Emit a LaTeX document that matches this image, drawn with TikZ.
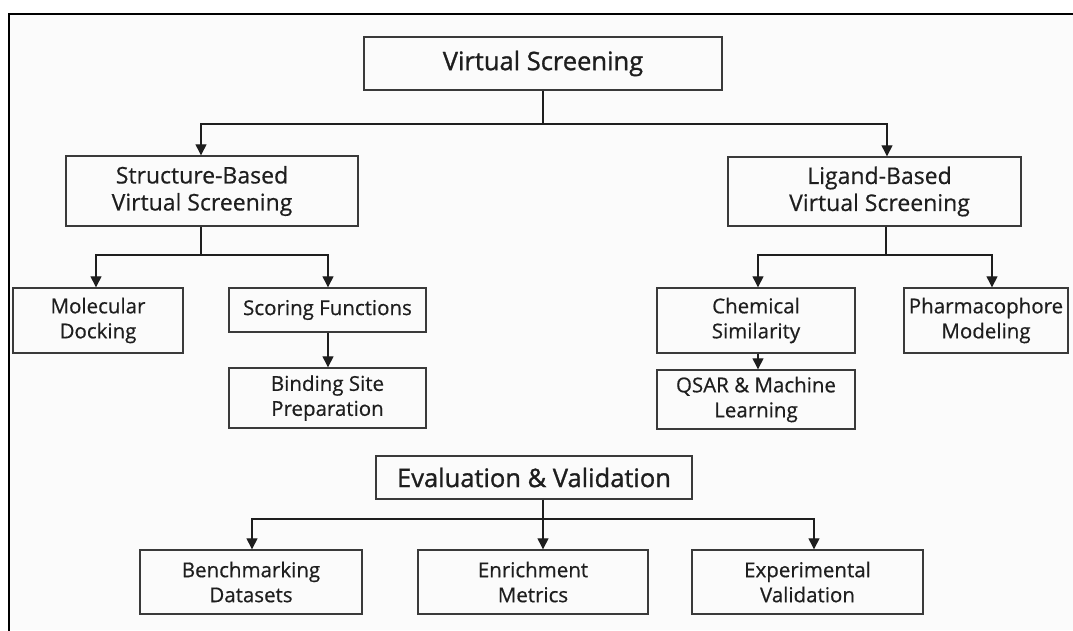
\documentclass[tikz,border=0pt]{standalone}
\usepackage{fontspec}
\setmainfont{Open Sans}[FakeBold=0.5]
\newfontfamily\headfont{Open Sans}[FakeBold=1.1]
\usetikzlibrary{arrows.meta}
\definecolor{ink}{HTML}{1E1E1E}
\definecolor{edge}{HTML}{3A3A3A}
\begin{document}
\begin{tikzpicture}[x=1pt,y=-1pt,
  box/.style={draw=edge, line width=1.4pt, text=ink, align=center, inner sep=0pt},
  lvlA/.style={box, font=\headfont\fontsize{25.5}{30}\selectfont},
  lvlB/.style={box, font=\fontsize{23}{27}\selectfont},
  leaf/.style={box, font=\fontsize{20.5}{25}\selectfont},
  link/.style={draw=ink, line width=1.3pt},
  arr/.style={link, -{Triangle[length=11pt,width=11pt]}},
  frame/.style={draw=black, line width=2.4pt}]
\useasboundingbox (0,0) rectangle (1073,630);
\fill[white] (0,0) rectangle (1073,630);
\fill[black!1.5] (9,14) rectangle (1073,630);
\draw[frame] (1073,14) -- (9,14) -- (9,631);

% top level
\node[lvlA, minimum width=358, minimum height=53] (vs) at (543,63.5) {Virtual Screening};

% two approaches
\node[lvlB, minimum width=292, minimum height=70] (sb) at (212,191) {\kern-20pt Structure-Based\\\kern-20pt Virtual Screening};
\node[lvlB, minimum width=293, minimum height=69] (lb) at (874.5,191.5) {\kern10pt Ligand-Based\\\kern10pt Virtual Screening};

% structure-based branch
\node[leaf, minimum width=170, minimum height=65] (md) at (98,320.5) {Molecular\\Docking};
\node[leaf, minimum width=197, minimum height=44] (sf) at (327.5,310) {Scoring Functions};
\node[leaf, minimum width=197, minimum height=60] (bs) at (327.5,398) {Binding Site\\Preparation};

% ligand-based branch
\node[leaf, minimum width=198, minimum height=65] (cs) at (756,320.5) {Chemical\\Similarity};
\node[leaf, minimum width=164, minimum height=65] (ph) at (986,320.5) {Pharmacophore\\Modeling};
\node[leaf, minimum width=198, minimum height=59] (qs) at (756,399.5) {QSAR \& Machine\\Learning};

% evaluation
\node[lvlA, minimum width=316, minimum height=43] (ev) at (534,477.5) {Evaluation \& Validation};
\node[leaf, minimum width=222, minimum height=64] (bm) at (251,582) {Benchmarking\\Datasets};
\node[leaf, minimum width=230, minimum height=64] (em) at (533,582) {Enrichment\\Metrics};
\node[leaf, minimum width=231, minimum height=64] (ex) at (807.5,582) {Experimental\\Validation};

% connectors: top level
\coordinate (j1) at (543,124);
\draw[link] (vs.south) -- (j1);
\draw[arr] (j1) -| (201,0 |- sb.north);
\draw[arr] (j1) -| (887,0 |- lb.north);

% connectors: structure-based
\coordinate (j2) at (201,255);
\draw[link] (201,0 |- sb.south) -- (j2);
\draw[arr] (j2) -| (96,0 |- md.north);
\draw[arr] (j2) -| (328,0 |- sf.north);
\draw[arr] (328,0 |- sf.south) -- (328,0 |- bs.north);

% connectors: ligand-based
\coordinate (j3) at (886,255);
\draw[link] (886,0 |- lb.south) -- (j3);
\draw[arr] (j3) -| (758,0 |- cs.north);
\draw[arr] (j3) -| (992,0 |- ph.north);
\draw[arr] (758,0 |- cs.south) -- (758,0 |- qs.north);

% connectors: evaluation
\coordinate (j4) at (543,519);
\draw[arr] (543,0 |- ev.south) -- (543,0 |- em.north);
\draw[arr] (j4) -| (252,0 |- bm.north);
\draw[arr] (j4) -| (814,0 |- ex.north);
\end{tikzpicture}
\end{document}
